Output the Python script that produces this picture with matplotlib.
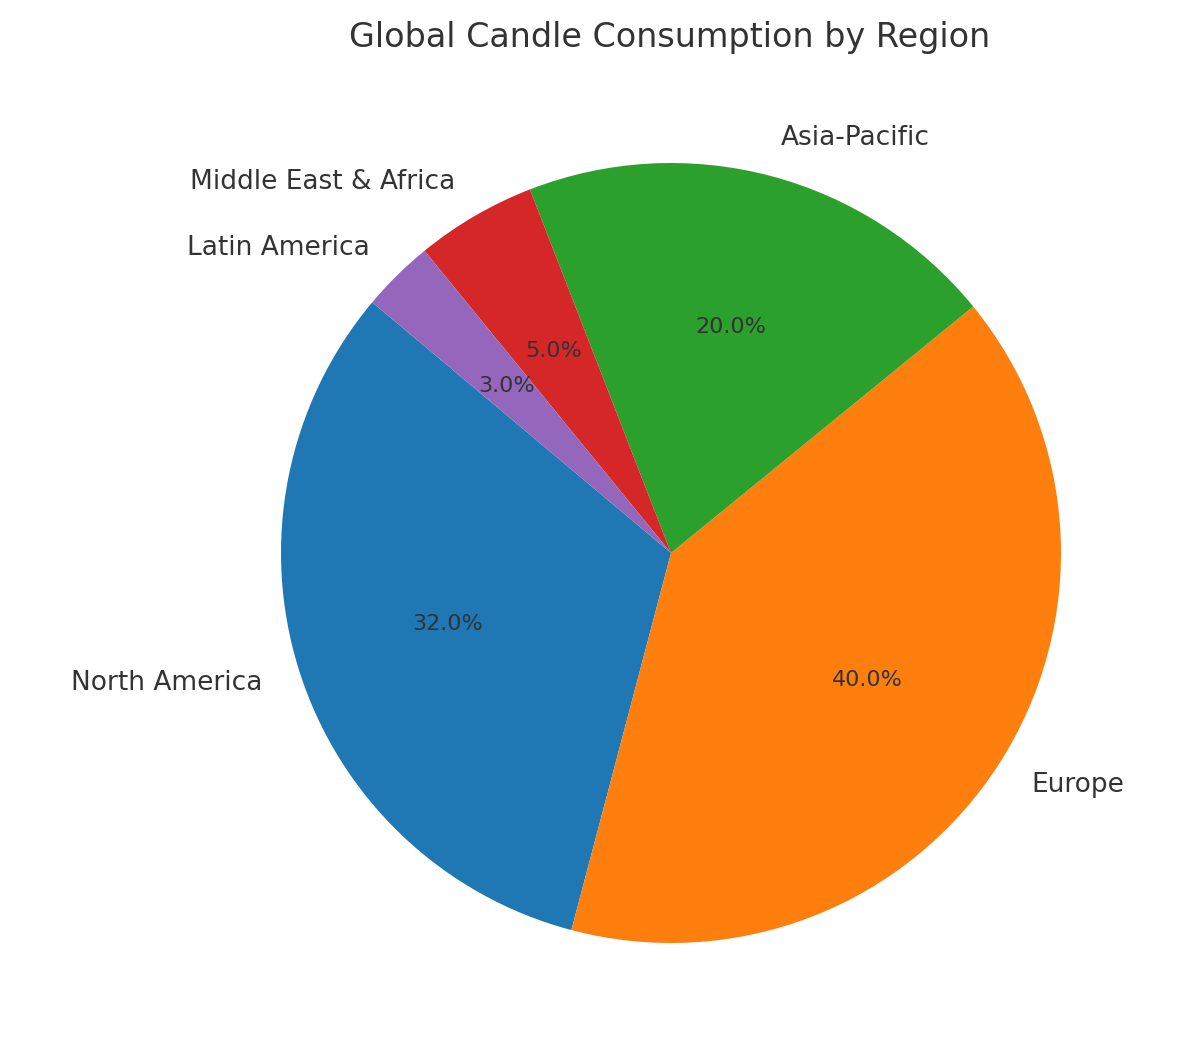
import matplotlib
matplotlib.use('Agg')
import matplotlib.pyplot as plt

regions = ['North America', 'Europe', 'Asia-Pacific', 'Middle East & Africa', 'Latin America']
shares = [32, 40, 20, 5, 3]
colors = ['#1f77b4', '#ff7f0e', '#2ca02c', '#d62728', '#9467bd']

fig = plt.figure(figsize=(11.78, 10.62), dpi=100)
ax = fig.add_axes([0, 0, 1, 1])
wedges, texts, autotexts = ax.pie(shares, labels=regions, colors=colors, autopct='%1.1f%%',
                                  startangle=140, textprops={'color': '#333333'})
for t in texts:
    t.set_fontsize(19)
for t in autotexts:
    t.set_fontsize(16)
# 1 data unit = 390 px, pie centre at (671, 553) px from top-left
ax.set_xlim(-671 / 390, (1178 - 671) / 390)
ax.set_ylim(-(1062 - 553) / 390, 553 / 390)
ax.set_aspect('equal', adjustable='box')
ax.axis('off')
fig.text(670 / 1178, 1 - 38 / 1062, 'Global Candle Consumption by Region', fontsize=24,
         color='#333333', ha='center', va='center')
plt.savefig('out.png')
